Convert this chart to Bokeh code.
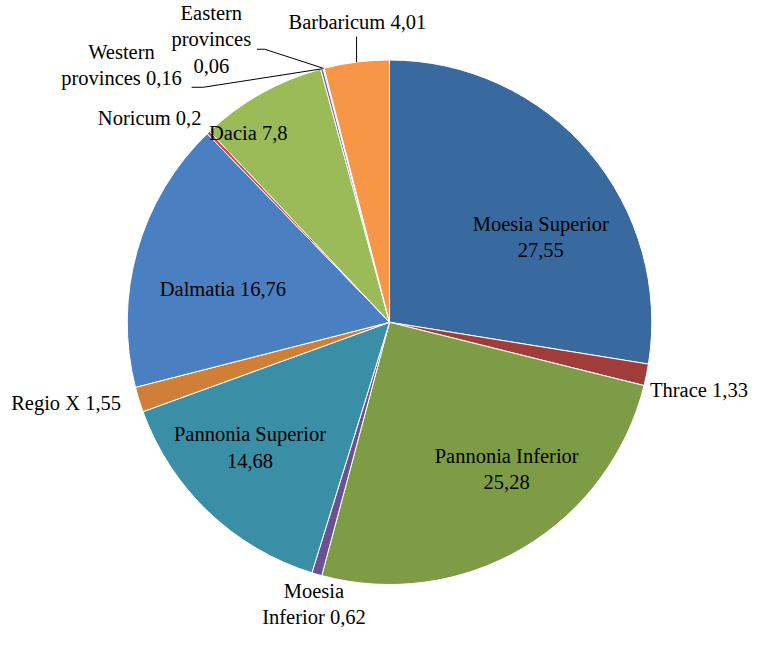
import math
from bokeh.plotting import figure
from bokeh.models import Range1d, ColumnDataSource
from bokeh.core.properties import value
from bokeh.embed import file_html
from bokeh.resources import INLINE

# ---- data ----
categories = ["Moesia Superior", "Thrace", "Pannonia Inferior", "Moesia Inferior",
              "Pannonia Superior", "Regio X", "Dalmatia", "Noricum", "Dacia",
              "Western provinces", "Eastern provinces", "Barbaricum"]
shares = [27.55, 1.33, 25.28, 0.62, 14.68, 1.55, 16.76, 0.2, 7.8, 0.16, 0.06, 4.01]
label_texts = ["Moesia Superior\n27,55", "Thrace 1,33", "Pannonia Inferior\n25,28",
               "Moesia\nInferior 0,62", "Pannonia Superior\n14,68", "Regio X 1,55",
               "Dalmatia 16,76", "Noricum 0,2", "Dacia 7,8",
               "Western\nprovinces 0,16", "Eastern\nprovinces\n0,06", "Barbaricum 4,01"]
colors = ["#386AA0", "#A03D3A", "#7E9C46", "#6A5290", "#3A8EA6", "#D17E36",
          "#4A7FC1", "#C0504D", "#9BBB59", "#8064A2", "#4BACC6", "#F79646"]

# ---- layout (label placement: radius in pie radii, angle in degrees) ----
label_r = [0.662, 1.208, 0.716, 1.113, 0.715, 1.271, 0.648, 1.201, 0.899, 1.416, 1.275, 1.152]
label_ang = [29.4, -12.4, -51.4, -105.0, -138.1, -166.0, 168.6, 139.6, 126.8, 136.2, 122.2, 96.1]

W, H = 762, 631
S = 0.975                      # overall scale to fit the page
CX, CY, R = 399 * S, H - 330 * S, 269 * S

total = sum(shares)
starts, ends, mids = [], [], []
cum = 0.0
for v in shares:
    a0 = math.pi / 2 - 2 * math.pi * cum / total
    cum += v
    a1 = math.pi / 2 - 2 * math.pi * cum / total
    starts.append(a1)
    ends.append(a0)
    mids.append((a0 + a1) / 2)

src = ColumnDataSource(dict(start=starts, end=ends, color=colors, cat=categories))

p = figure(width=W, height=H, output_backend="svg", toolbar_location=None,
           x_range=Range1d(0, W), y_range=Range1d(0, H), min_border=0)
p.axis.visible = False
p.grid.visible = False
p.outline_line_color = None
p.background_fill_color = "white"

p.wedge(x=CX, y=CY, radius=R, start_angle="start", end_angle="end",
        direction="anticlock", fill_color="color", line_color="white",
        line_width=1, source=src)

# leader lines for the small outside slices
def edge(i):
    return CX + R * math.cos(mids[i]), CY + R * math.sin(mids[i])

iE = categories.index("Eastern provinces")
iW = categories.index("Western provinces")
iB = categories.index("Barbaricum")
ex, ey = edge(iE)
wx, wy = edge(iW)
bx, by = edge(iB)
lx = [[ex, CX - 128 * S, CX - 136 * S], [wx, CX - 191 * S, CX - 203 * S], [bx, bx]]
ly = [[ey, CY + 280 * S, CY + 280 * S], [wy, CY + 241 * S, CY + 241 * S], [by, CY + 293 * S]]
p.multi_line(xs=lx, ys=ly, line_color="black", line_width=1)

tx = [CX + R * rr * math.cos(math.radians(aa)) for rr, aa in zip(label_r, label_ang)]
ty = [CY + R * rr * math.sin(math.radians(aa)) for rr, aa in zip(label_r, label_ang)]
p.text(x=tx, y=ty, text=label_texts, text_align="center", text_baseline="middle",
       text_font=value("Liberation Serif"), text_font_size="20.5px",
       text_line_height=1.2, text_color="black")

open("out.html", "w").write(file_html(p, INLINE))
